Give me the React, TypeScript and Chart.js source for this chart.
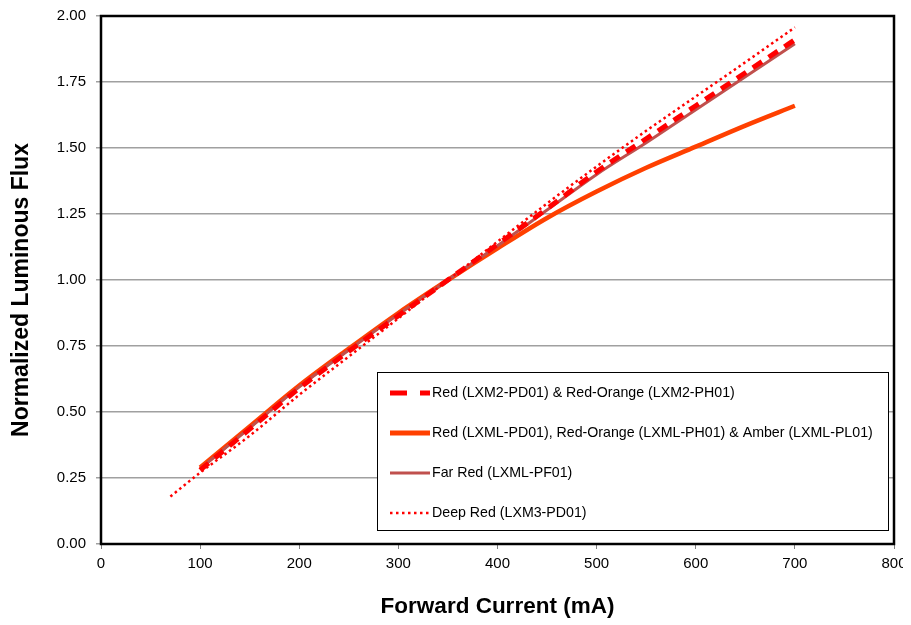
import { useEffect, useRef } from "react";
import { Chart, registerables } from "chart.js";

Chart.register(...registerables);

// Forward current (mA) and normalized luminous flux for each LED family
const currentLXM2 = [100, 150, 200, 250, 300, 350, 400, 450, 500, 550, 600, 650, 700];
const fluxLXM2 = [0.28, 0.435, 0.59, 0.73, 0.865, 1.0, 1.135, 1.27, 1.41, 1.535, 1.66, 1.785, 1.91];

const currentLXML = [100, 150, 200, 250, 300, 350, 400, 450, 500, 550, 600, 650, 700];
const fluxLXML = [0.29, 0.445, 0.6, 0.74, 0.875, 1.0, 1.12, 1.235, 1.335, 1.425, 1.505, 1.585, 1.66];

const currentFarRed = [100, 150, 200, 250, 300, 350, 400, 450, 500, 550, 600, 650, 700];
const fluxFarRed = [0.285, 0.44, 0.595, 0.735, 0.87, 1.0, 1.13, 1.265, 1.4, 1.52, 1.645, 1.77, 1.895];

const currentDeepRed = [70, 100, 150, 200, 250, 300, 350, 400, 450, 500, 550, 600, 650, 700];
const fluxDeepRed = [0.18, 0.27, 0.41, 0.565, 0.71, 0.855, 1.0, 1.145, 1.29, 1.43, 1.565, 1.695, 1.825, 1.957];

const seriesLabels = [
  "Red (LXM2-PD01) & Red-Orange (LXM2-PH01)",
  "Red (LXML-PD01), Red-Orange (LXML-PH01) & Amber (LXML-PL01)",
  "Far Red (LXML-PF01)",
  "Deep Red (LXM3-PD01)",
];

const xTicks = [0, 100, 200, 300, 400, 500, 600, 700, 800];
const yTicks = [0, 0.25, 0.5, 0.75, 1.0, 1.25, 1.5, 1.75, 2.0];

const xTitle = "Forward Current (mA)";
const yTitle = "Normalized Luminous Flux";

const FONT = "'Liberation Sans', Arial, sans-serif";

const toPoints = (xs: number[], ys: number[]) => xs.map((x, i) => ({ x, y: ys[i] }));

type LegendItem = { label: string; color: string; width: number; dash: number[] };

const legendItems: LegendItem[] = [
  { label: seriesLabels[0], color: "#FF0000", width: 5, dash: [17, 13] },
  { label: seriesLabels[1], color: "#FF4000", width: 5, dash: [] },
  { label: seriesLabels[2], color: "#C0504D", width: 3, dash: [] },
  { label: seriesLabels[3], color: "#FF0000", width: 2.5, dash: [2.5, 3.5] },
];

const framePlugin = {
  id: "frameAndLegend",
  afterDatasetsDraw(chart: any) {
    const { ctx, chartArea } = chart;
    const left = chartArea.left + 276;
    const top = chartArea.top + 356;
    const w = 511;
    const h = 158;
    ctx.save();
    ctx.fillStyle = "#ffffff";
    ctx.fillRect(left, top, w, h);
    ctx.strokeStyle = "#000000";
    ctx.lineWidth = 1;
    ctx.strokeRect(left + 0.5, top + 0.5, w, h);
    ctx.font = `14.2px ${FONT}`;
    ctx.textBaseline = "middle";
    ctx.textAlign = "left";
    legendItems.forEach((it, i) => {
      const cy = top + 21 + i * 40;
      ctx.beginPath();
      ctx.setLineDash(it.dash);
      ctx.strokeStyle = it.color;
      ctx.lineWidth = it.width;
      ctx.lineCap = "butt";
      ctx.moveTo(left + 13, cy);
      ctx.lineTo(left + 53, cy);
      ctx.stroke();
      ctx.setLineDash([]);
      ctx.fillStyle = "#000000";
      ctx.fillText(it.label, left + 55, cy + 0.5);
    });
    ctx.restore();
  },
  afterDraw(chart: any) {
    const { ctx, chartArea } = chart;
    ctx.save();
    ctx.strokeStyle = "#000000";
    ctx.lineWidth = 2.5;
    ctx.strokeRect(
      chartArea.left,
      chartArea.top,
      chartArea.right - chartArea.left,
      chartArea.bottom - chartArea.top
    );
    // y axis title
    ctx.translate(14, (chartArea.top + chartArea.bottom) / 2 + 10);
    ctx.rotate(-Math.PI / 2);
    ctx.font = `bold 23px ${FONT}`;
    ctx.fillStyle = "#000000";
    ctx.textAlign = "center";
    ctx.textBaseline = "middle";
    ctx.fillText(yTitle, 0, 0);
    ctx.restore();
  },
};

export default function App() {
  const canvasRef = useRef<HTMLCanvasElement | null>(null);

  useEffect(() => {
    if (!canvasRef.current) return;
    const chart = new Chart(canvasRef.current, {
      type: "line",
      data: {
        datasets: [
          {
            label: seriesLabels[3],
            data: toPoints(currentDeepRed, fluxDeepRed),
            borderColor: "#FF0000",
            borderWidth: 2.5,
            borderDash: [2.5, 3.2],
            pointRadius: 0,
            cubicInterpolationMode: "monotone",
            order: 0,
          },
          {
            label: seriesLabels[0],
            data: toPoints(currentLXM2, fluxLXM2),
            borderColor: "#FF0000",
            borderWidth: 5,
            borderDash: [11, 8],
            pointRadius: 0,
            cubicInterpolationMode: "monotone",
            order: 1,
          },
          {
            label: seriesLabels[2],
            data: toPoints(currentFarRed, fluxFarRed),
            borderColor: "#C0504D",
            borderWidth: 3,
            pointRadius: 0,
            cubicInterpolationMode: "monotone",
            order: 2,
          },
          {
            label: seriesLabels[1],
            data: toPoints(currentLXML, fluxLXML),
            borderColor: "#FF4000",
            borderWidth: 4.5,
            pointRadius: 0,
            cubicInterpolationMode: "monotone",
            order: 3,
          },
        ],
      },
      options: {
        animation: false,
        responsive: true,
        maintainAspectRatio: false,
        layout: { padding: { left: 0, top: 8, right: 9, bottom: 0 } },
        plugins: {
          legend: { display: false },
          tooltip: { enabled: false },
        },
        scales: {
          x: {
            type: "linear",
            min: 0,
            max: 800,
            afterBuildTicks: (scale: any) => {
              scale.ticks = xTicks.map((v) => ({ value: v }));
            },
            afterFit: (scale: any) => {
              scale.height = 76;
              scale.paddingLeft = 0;
              scale.paddingRight = 0;
            },
            ticks: {
              color: "#000000",
              font: { family: FONT, size: 15 },
              padding: 6,
              maxRotation: 0,
              callback: (v: any) => String(v),
            },
            grid: {
              drawOnChartArea: false,
              drawTicks: true,
              tickLength: 5,
              color: "#808080",
            },
            border: { display: false },
            title: {
              display: true,
              text: xTitle,
              color: "#000000",
              font: { family: FONT, size: 22.5, weight: "bold" },
              padding: { top: 0, bottom: 0 },
            },
          },
          y: {
            type: "linear",
            min: 0,
            max: 2,
            afterBuildTicks: (scale: any) => {
              scale.ticks = yTicks.map((v) => ({ value: v }));
            },
            afterFit: (scale: any) => {
              scale.width = 93;
              scale.paddingTop = 0;
              scale.paddingBottom = 0;
            },
            ticks: {
              color: "#000000",
              font: { family: FONT, size: 15 },
              padding: 10,
              callback: (v: any) => Number(v).toFixed(2),
            },
            grid: {
              drawOnChartArea: true,
              drawTicks: true,
              tickLength: 5,
              color: "#A0A0A0",
              lineWidth: 1.5,
            },
            border: { display: false },
            title: { display: false },
          },
        },
      },
      plugins: [framePlugin],
    });
    return () => chart.destroy();
  }, []);

  return (
    <div style={{ width: 895, height: 612, position: "relative" }}>
      <canvas ref={canvasRef} />
    </div>
  );
}
